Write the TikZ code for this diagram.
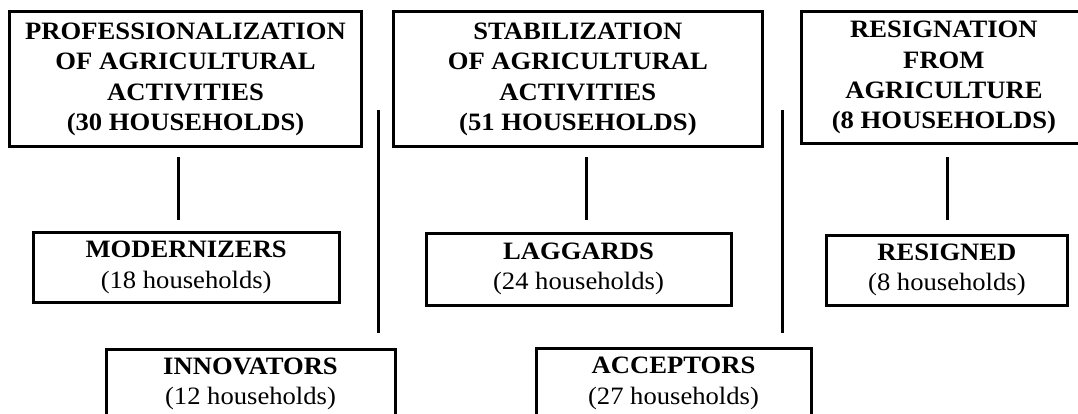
\documentclass[tikz,border=0pt]{standalone}
\usepackage{fontspec}
\setmainfont{Liberation Serif}[FakeStretch=1.065]
\begin{document}
\begin{tikzpicture}[x=1pt,y=-1pt,
  box/.style={draw=black, line width=3pt, rectangle, inner sep=0pt, align=center,
    font=\fontsize{25}{30.4}\selectfont},
  bigbox/.style={box, font=\fontsize{25}{30.4}\selectfont\bfseries},
  link/.style={draw=black, line width=3pt}]
\useasboundingbox (0,0) rectangle (1078,414);
\fill[white] (0,0) rectangle (1078,414);
\clip (0,0) rectangle (1078,414);

% top level boxes
\node[bigbox, minimum width=352.4pt, minimum height=135pt] (prof) at (185.5,79.5)
  {PROFESSIONALIZATION\\OF AGRICULTURAL\\ACTIVITIES\\(30 HOUSEHOLDS)};
\node[bigbox, minimum width=369.2pt, minimum height=135pt] (stab) at (577.9,79.5)
  {STABILIZATION\\OF AGRICULTURAL\\ACTIVITIES\\(51 HOUSEHOLDS)};
\node[bigbox, minimum width=284.2pt, minimum height=131.5pt] (resg) at (943.9,77.75)
  {RESIGNATION\\FROM\\AGRICULTURE\\(8 HOUSEHOLDS)};

% second level boxes
\node[box, minimum width=305.7pt, minimum height=70pt] (mod) at (186.2,267.5)
  {\textbf{MODERNIZERS}\\(18 households)};
\node[box, minimum width=305pt, minimum height=72pt] (lag) at (578.5,269)
  {\textbf{LAGGARDS}\\(24 households)};
\node[box, minimum width=241.7pt, minimum height=70pt] (res) at (946.9,270)
  {\textbf{RESIGNED}\\(8 households)};

% third level boxes (cut off by the page bottom)
\node[box, minimum width=289pt, minimum height=70pt] (inn) at (250.5,384)
  {\textbf{INNOVATORS}\\(12 households)};
\node[box, minimum width=275pt, minimum height=70pt] (acc) at (673.5,383.5)
  {\textbf{ACCEPTORS}\\(27 households)};

% free-standing connector ends
\coordinate (l1a) at (178.3,157.3); \coordinate (l1b) at (178.3,220);
\coordinate (l2a) at (586.4,157.3); \coordinate (l2b) at (586.4,220);
\coordinate (l3a) at (947,157.3);   \coordinate (l3b) at (947,220);
\coordinate (v1a) at (378.5,110);   \coordinate (v1b) at (378.5,332.5);
\coordinate (v2a) at (782,110);     \coordinate (v2b) at (782,332.5);

\draw[link] (l1a) -- (l1b);
\draw[link] (l2a) -- (l2b);
\draw[link] (l3a) -- (l3b);
\draw[link] (v1a) -- (v1b);
\draw[link] (v2a) -- (v2b);
\end{tikzpicture}
\end{document}
